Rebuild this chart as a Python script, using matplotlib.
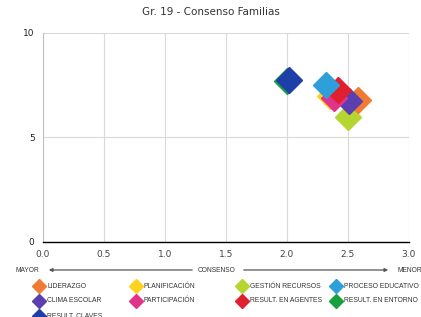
import matplotlib
matplotlib.use("Agg")
import matplotlib.pyplot as plt
from matplotlib.lines import Line2D
from matplotlib.patches import FancyArrowPatch

categories = ["LIDERAZGO", "PLANIFICACIÓN", "GESTIÓN RECURSOS", "PROCESO EDUCATIVO",
              "CLIMA ESCOLAR", "PARTICIPACIÓN", "RESULT. EN AGENTES", "RESULT. EN ENTORNO",
              "RESULT. CLAVES"]
x_vals = [2.58, 2.35, 2.50, 2.32, 2.51, 2.39, 2.42, 2.00, 2.02]
y_vals = [6.80, 7.00, 6.00, 7.50, 6.75, 6.90, 7.25, 7.70, 7.75]
colors = ["#F07B32", "#FFD21F", "#B5D630", "#2E9FD8", "#5B3FB0", "#E0338A",
          "#E0202E", "#17A03C", "#1F3FA8"]
draw_order = [2, 0, 4, 1, 5, 6, 3, 7, 8]
xticks = [0.0, 0.5, 1.0, 1.5, 2.0, 2.5, 3.0]
yticks = [0, 5, 10]

W, H = 421, 317
fig = plt.figure(figsize=(W / 100, H / 100), dpi=100)
ax = fig.add_axes([0.102, 0.237, 0.869, 0.659])

for i in draw_order:
    ax.plot(x_vals[i], y_vals[i], marker="D", markersize=13.5, color=colors[i],
            linestyle="none", zorder=3)

ax.set_xlim(0, 3)
ax.set_ylim(0, 10)
ax.set_xticks(xticks)
ax.set_xticklabels([f"{t:.1f}" for t in xticks], fontsize=6.5, color="#444444")
ax.set_yticks(yticks)
ax.set_yticklabels([str(t) for t in yticks], fontsize=6.5, color="#222222")
ax.grid(True, color="#D9D9D9", linewidth=0.8)
ax.set_axisbelow(True)
for s in ["top", "right"]:
    ax.spines[s].set_visible(False)
ax.spines["left"].set_color("#BFBFBF")
ax.spines["bottom"].set_color("black")
ax.spines["bottom"].set_linewidth(1.0)
ax.tick_params(axis="both", length=0, pad=6)

fig.text(0.5, 0.963, "Gr. 19 - Consenso Familias", ha="center", va="center",
         fontsize=7.5, color="#333333")

small = ["Liberation Sans", "DejaVu Sans"]

# axis direction label with arrows
fy = 1 - 270 / H
fig.text(15 / W, fy, "MAYOR", ha="left", va="center", fontsize=4.8, color="#333333",
         family=small)
fig.text(217 / W, fy, "CONSENSO", ha="center", va="center", fontsize=4.8, color="#333333",
         family=small)
fig.text(398 / W, fy, "MENOR", ha="left", va="center", fontsize=4.8, color="#333333",
         family=small)
fig.add_artist(FancyArrowPatch((195 / W, fy), (46 / W, fy),
               transform=fig.transFigure, arrowstyle="-|>", mutation_scale=5,
               color="#555555", linewidth=0.9))
fig.add_artist(FancyArrowPatch((241 / W, fy), (391 / W, fy),
               transform=fig.transFigure, arrowstyle="-|>", mutation_scale=5,
               color="#555555", linewidth=0.9))

# legend, row-wise in 4 columns
col_x = [39, 136, 242, 336]
row_y = [286, 301, 316]
for k, name in enumerate(categories):
    r, c = divmod(k, 4)
    mx, my = col_x[c] / W, 1 - row_y[r] / H
    fig.add_artist(Line2D([mx], [my], marker="D", markersize=7, color=colors[k],
                          linestyle="none", transform=fig.transFigure))
    fig.text(mx + 8 / W, my, name, ha="left", va="center", fontsize=4.9,
             color="#333333", family=small)

fig.savefig("out.png", dpi=100)
